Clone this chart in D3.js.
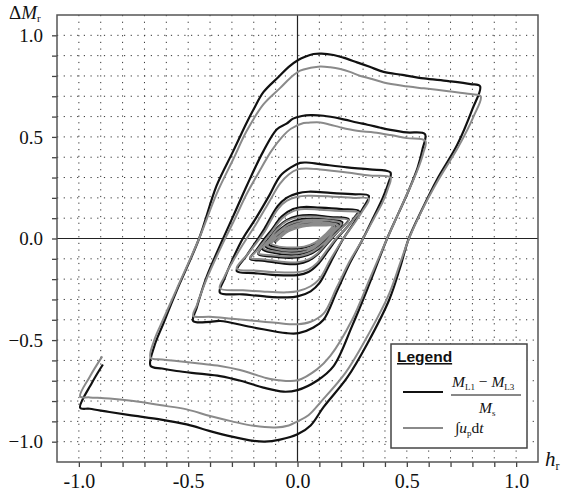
<html>
<script src="https://d3js.org/d3.v7.min.js"></script>
<style>
body { margin: 0; background: #fff; }
text { font-family: "Liberation Serif", "DejaVu Serif", serif; }
</style>
<body>
<svg width="561" height="491"></svg>
<script>
// x = h_r, y = delta M_r
var xTicks = [-1.0,-0.9,-0.8,-0.7,-0.6,-0.5,-0.4,-0.3,-0.2,-0.1,0,0.1,0.2,0.3,0.4,0.5,0.6,0.7,0.8,0.9,1.0];
var yTicks = xTicks;
var xLabels = {"-1": "-1.0", "-0.5": "-0.5", "0": "0.0", "0.5": "0.5", "1": "1.0"};
var yLabels = {"-1": "\u22121.0", "-0.5": "\u22120.5", "0": "0.0", "0.5": "0.5", "1": "1.0"};

// black: (M_L1 - M_L3)/M_s
var blackTrace = [
 [-0.89,-0.62],[-0.94,-0.71],[-0.994,-0.833],
 [-0.95,-0.838],[-0.86,-0.854],[-0.75,-0.872],[-0.63,-0.89],[-0.507,-0.915],[-0.40,-0.948],[-0.30,-0.975],[-0.20,-0.996],[-0.15,-1.0],[-0.08,-0.99],[0,-0.964],
 [0.06,-0.92],[0.119,-0.83],[0.227,-0.685],[0.318,-0.52],[0.42,-0.30],[0.47,-0.14],[0.509,0.0],[0.563,0.128],[0.639,0.292],[0.73,0.46],[0.80,0.637],[0.835,0.749],
 [0.792,0.76],[0.69,0.775],[0.578,0.788],[0.48,0.805],[0.394,0.82],[0.33,0.845],[0.272,0.867],[0.21,0.89],[0.165,0.903],[0.11,0.91],[0.073,0.908],[0.035,0.895],[0.005,0.88],[-0.04,0.845],[-0.087,0.795],
 [-0.156,0.72],[-0.20,0.637],[-0.232,0.571],[-0.294,0.43],[-0.37,0.26],[-0.45,0.0],[-0.553,-0.258],[-0.615,-0.422],[-0.655,-0.53],[-0.672,-0.627],
 [-0.62,-0.64],[-0.553,-0.652],[-0.45,-0.665],[-0.354,-0.677],[-0.26,-0.70],[-0.156,-0.734],[-0.064,-0.754],[0,-0.746],[0.089,-0.70],[0.165,-0.628],
 [0.25,-0.43],[0.33,-0.22],[0.41,0.0],[0.46,0.12],[0.51,0.24],[0.55,0.35],[0.572,0.44],[0.583,0.514],
 [0.50,0.522],[0.425,0.535],[0.38,0.545],[0.32,0.56],[0.272,0.571],[0.196,0.59],[0.119,0.604],[0.06,0.607],[0.02,0.603],[-0.02,0.59],[-0.05,0.565],
 [-0.094,0.538],[-0.156,0.43],[-0.232,0.26],[-0.294,0.11],[-0.34,0.0],[-0.416,-0.19],[-0.461,-0.34],[-0.477,-0.406],
 [-0.40,-0.41],[-0.354,-0.406],[-0.2,-0.438],[-0.05,-0.466],[0.005,-0.466],[0.073,-0.438],[0.119,-0.40],
 [0.18,-0.26],[0.24,-0.12],[0.30,0.0],[0.35,0.11],[0.39,0.20],[0.415,0.27],[0.425,0.325],
 [0.33,0.34],[0.227,0.35],[0.104,0.366],[0.04,0.374],[0.012,0.372],[-0.03,0.35],[-0.079,0.308],
 [-0.13,0.21],[-0.19,0.10],[-0.25,0.0],[-0.30,-0.11],[-0.335,-0.20],[-0.355,-0.266],
 [-0.25,-0.275],[-0.15,-0.285],[-0.05,-0.29],[0.0,-0.285],[0.06,-0.26],[0.10,-0.22],
 [0.15,-0.12],[0.21,0.0],[0.26,0.08],[0.30,0.15],[0.326,0.21],
 [0.25,0.218],[0.15,0.225],[0.05,0.23],[0.0,0.222],[-0.05,0.20],[-0.09,0.16],
 [-0.15,0.05],[-0.18,0.0],[-0.23,-0.08],[-0.278,-0.16],
 [-0.2,-0.17],[-0.1,-0.18],[0.0,-0.18],[0.05,-0.165],[0.09,-0.13],
 [0.14,-0.06],[0.18,0.0],[0.23,0.06],[0.265,0.11],[0.28,0.136],
 [0.2,0.145],[0.1,0.152],[0.03,0.155],[-0.02,0.145],[-0.07,0.11],
 [-0.12,0.04],[-0.15,0.0],[-0.19,-0.06],[-0.217,-0.10],
 [-0.15,-0.11],[-0.05,-0.125],[0.0,-0.125],[0.05,-0.11],[0.09,-0.08],
 [0.14,-0.02],[0.19,0.04],[0.234,0.095],
 [0.15,0.105],[0.06,0.115],[0.0,0.11],[-0.05,0.09],[-0.09,0.055],
 [-0.13,0.0],[-0.179,-0.077],
 [-0.12,-0.088],[-0.04,-0.095],[0.02,-0.09],[0.07,-0.07],[0.12,-0.03],[0.17,0.03],[0.205,0.08],
 [0.15,0.093],[0.08,0.098],[0.02,0.095],[-0.04,0.075],[-0.09,0.035],[-0.13,-0.01],[-0.16,-0.052],
 [-0.11,-0.07],[-0.04,-0.08],[0.02,-0.075],[0.07,-0.055],[0.12,-0.015],[0.16,0.03],[0.19,0.07],
 [0.14,0.082],[0.08,0.087],[0.02,0.083],[-0.04,0.062],[-0.09,0.025],[-0.125,-0.01],[-0.145,-0.04],
 [-0.1,-0.058],[-0.04,-0.066],[0.02,-0.062],[0.07,-0.045],[0.115,-0.01],[0.15,0.03],[0.175,0.06],
 [0.13,0.072],[0.08,0.076],[0.02,0.072],[-0.04,0.052],[-0.085,0.02],[-0.115,-0.01],[-0.13,-0.03],
 [-0.09,-0.045],[-0.03,-0.05],[0.03,-0.045],[0.08,-0.025],[0.12,0.005],[0.15,0.04],[0.165,0.065],
 [0.12,0.068],[0.07,0.068],[0.02,0.062],[-0.04,0.04],[-0.08,0.01],[-0.105,-0.02]
];

// gray: integral of u_p dt
var grayTrace = [
 [-0.893,-0.58],[-0.95,-0.68],[-0.994,-0.778],
 [-0.95,-0.782],[-0.86,-0.788],[-0.75,-0.80],[-0.63,-0.82],[-0.507,-0.841],[-0.40,-0.874],[-0.30,-0.90],[-0.20,-0.922],[-0.1,-0.93],[-0.04,-0.92],[0,-0.90],[0.05,-0.87],
 [0.11,-0.80],[0.22,-0.66],[0.31,-0.50],[0.42,-0.27],[0.47,-0.12],[0.51,0.0],[0.565,0.13],[0.645,0.29],[0.735,0.45],[0.805,0.60],[0.838,0.70],
 [0.792,0.711],[0.69,0.725],[0.578,0.739],[0.48,0.752],[0.394,0.768],[0.34,0.785],[0.288,0.80],[0.24,0.82],[0.196,0.834],[0.15,0.843],[0.104,0.847],[0.06,0.84],[0.012,0.826],[-0.033,0.79],[-0.08,0.74],
 [-0.156,0.66],[-0.232,0.53],[-0.294,0.39],[-0.37,0.22],[-0.45,0.0],[-0.553,-0.25],[-0.615,-0.40],[-0.655,-0.50],[-0.672,-0.586],
 [-0.62,-0.595],[-0.553,-0.603],[-0.45,-0.615],[-0.354,-0.627],[-0.263,-0.647],[-0.2,-0.668],[-0.13,-0.69],[-0.064,-0.70],[0,-0.698],[0.089,-0.644],[0.15,-0.578],
 [0.25,-0.40],[0.33,-0.20],[0.41,0.0],[0.46,0.12],[0.51,0.24],[0.55,0.34],[0.575,0.42],[0.585,0.48],
 [0.50,0.494],[0.425,0.509],[0.35,0.522],[0.272,0.53],[0.196,0.547],[0.15,0.56],[0.104,0.571],[0.05,0.57],[0.028,0.568],[-0.03,0.54],[-0.07,0.50],
 [-0.12,0.43],[-0.18,0.32],[-0.232,0.22],[-0.294,0.08],[-0.34,-0.02],[-0.416,-0.20],[-0.461,-0.33],[-0.477,-0.381],
 [-0.40,-0.385],[-0.30,-0.395],[-0.2,-0.405],[-0.1,-0.415],[0,-0.422],[0.06,-0.41],[0.119,-0.37],
 [0.18,-0.24],[0.24,-0.11],[0.30,0.0],[0.35,0.10],[0.39,0.18],[0.415,0.25],[0.425,0.30],
 [0.33,0.31],[0.227,0.325],[0.104,0.34],[0.04,0.345],[0.0,0.34],[-0.04,0.315],[-0.08,0.27],
 [-0.13,0.18],[-0.19,0.07],[-0.25,-0.03],[-0.30,-0.12],[-0.335,-0.19],[-0.355,-0.245],
 [-0.25,-0.255],[-0.15,-0.262],[-0.05,-0.265],[0.0,-0.26],[0.06,-0.235],[0.10,-0.2],
 [0.15,-0.105],[0.21,0.0],[0.26,0.075],[0.30,0.14],[0.326,0.195],
 [0.25,0.2],[0.15,0.207],[0.05,0.21],[0.0,0.205],[-0.05,0.185],[-0.09,0.145],
 [-0.15,0.035],[-0.18,-0.01],[-0.23,-0.08],[-0.278,-0.148],
 [-0.2,-0.158],[-0.1,-0.166],[0.0,-0.166],[0.05,-0.152],[0.09,-0.12],
 [0.14,-0.05],[0.18,0.005],[0.23,0.06],[0.265,0.105],[0.28,0.128],
 [0.2,0.135],[0.1,0.142],[0.03,0.145],[-0.02,0.135],[-0.07,0.1],
 [-0.12,0.03],[-0.15,-0.01],[-0.19,-0.065],[-0.217,-0.095],
 [-0.15,-0.103],[-0.05,-0.117],[0.0,-0.117],[0.05,-0.103],[0.09,-0.075],
 [0.14,-0.015],[0.19,0.04],[0.234,0.09],
 [0.15,0.1],[0.06,0.108],[0.0,0.104],[-0.05,0.085],[-0.09,0.05],
 [-0.13,-0.005],[-0.179,-0.072],
 [-0.12,-0.082],[-0.04,-0.089],[0.02,-0.084],[0.07,-0.064],[0.12,-0.025],[0.165,0.03],[0.2,0.075],
 [0.15,0.088],[0.08,0.092],[0.02,0.089],[-0.04,0.07],[-0.09,0.03],[-0.13,-0.012],[-0.155,-0.048],
 [-0.105,-0.064],[-0.04,-0.073],[0.02,-0.069],[0.07,-0.05],[0.115,-0.012],[0.155,0.03],[0.185,0.066],
 [0.14,0.077],[0.08,0.082],[0.02,0.078],[-0.04,0.057],[-0.09,0.022],[-0.12,-0.012],[-0.14,-0.036],
 [-0.095,-0.052],[-0.04,-0.06],[0.02,-0.056],[0.07,-0.04],[0.11,-0.007],[0.145,0.03],[0.17,0.062],
 [0.125,0.07],[0.075,0.072],[0.02,0.067],[-0.04,0.047],[-0.08,0.016],[-0.11,-0.012],[-0.12,-0.025],
 [-0.085,-0.04],[-0.03,-0.044],[0.03,-0.04],[0.08,-0.02],[0.115,0.008],[0.145,0.04],[0.16,0.062],
 [0.115,0.064],[0.07,0.064],[0.02,0.058],[-0.04,0.036],[-0.075,0.008],[-0.1,-0.018]
];

var svg = d3.select("svg");
var pL = 57, pR = 538, pT = 15, pB = 462;
var x = d3.scaleLinear().domain([-1.1, 1.1]).range([pL, pR]);
var y = d3.scaleLinear().domain([-1.1, 1.1]).range([pB, pT]);

// dotted grid
svg.append("g").selectAll("line").data(xTicks.filter(function(d){ return d != 0; }))
  .enter().append("line")
  .attr("x1", function(d){ return x(d); }).attr("x2", function(d){ return x(d); })
  .attr("y1", pT).attr("y2", pB)
  .attr("stroke", "#333").attr("stroke-width", 1).attr("stroke-dasharray", "1.2,5.5");
svg.append("g").selectAll("line").data(yTicks.filter(function(d){ return d != 0; }))
  .enter().append("line")
  .attr("y1", function(d){ return y(d); }).attr("y2", function(d){ return y(d); })
  .attr("x1", pL).attr("x2", pR)
  .attr("stroke", "#333").attr("stroke-width", 1).attr("stroke-dasharray", "1.2,5.5");

// zero lines
svg.append("line").attr("x1", x(0)).attr("x2", x(0)).attr("y1", pT).attr("y2", pB)
  .attr("stroke", "#222").attr("stroke-width", 1.2);
svg.append("line").attr("y1", y(0)).attr("y2", y(0)).attr("x1", pL).attr("x2", pR)
  .attr("stroke", "#222").attr("stroke-width", 1.2);

// axes
var xAxis = d3.axisBottom(x).tickValues(xTicks).tickSize(5).tickPadding(7)
  .tickFormat(function(d){ return xLabels[String(+d.toFixed(1))] || ""; });
var gx = svg.append("g").attr("transform", "translate(0," + pB + ")").call(xAxis)
  .attr("font-family", "'Liberation Serif', serif");
gx.select(".domain").remove();
gx.selectAll("line").attr("stroke", "#444").attr("stroke-width", 1.3);
gx.selectAll("text").attr("font-size", 20).attr("fill", "#111")
  .style("font-family", "'Liberation Serif', serif");

var yAxis = d3.axisLeft(y).tickValues(yTicks).tickSize(5).tickPadding(9)
  .tickFormat(function(d){ return yLabels[String(+d.toFixed(1))] || ""; });
var gy = svg.append("g").attr("transform", "translate(" + pL + ",0)").call(yAxis)
  .attr("font-family", "'Liberation Serif', serif");
gy.select(".domain").remove();
gy.selectAll("line").attr("stroke", "#444").attr("stroke-width", 1.3);
gy.selectAll("text").attr("font-size", 19).attr("fill", "#111")
  .style("font-family", "'Liberation Serif', serif");

// curves
var line = d3.line()
  .x(function(d){ return x(d[0]); })
  .y(function(d){ return y(d[1]); })
  .curve(d3.curveCatmullRom.alpha(0.5));
svg.append("path").datum(blackTrace).attr("d", line)
  .attr("fill", "none").attr("stroke", "#111").attr("stroke-width", 2.2);
svg.append("path").datum(grayTrace).attr("d", line)
  .attr("fill", "none").attr("stroke", "#8a8a8a").attr("stroke-width", 2);

// frame
svg.append("rect").attr("x", pL).attr("y", pT)
  .attr("width", pR - pL).attr("height", pB - pT)
  .attr("fill", "none").attr("stroke", "#555").attr("stroke-width", 1.5);

// axis titles
var yt = svg.append("text").attr("x", 9).attr("y", 19).attr("font-size", 19).attr("fill", "#111");
yt.append("tspan").text("\u0394");
yt.append("tspan").attr("font-style", "italic").text("M");
yt.append("tspan").attr("font-size", 11).attr("dy", 3).text("r");
var xt = svg.append("text").attr("x", 545).attr("y", 466).attr("font-size", 21).attr("fill", "#111");
xt.append("tspan").attr("font-style", "italic").text("h");
xt.append("tspan").attr("font-size", 12).attr("dy", 4).text("r");

// legend
var lg = svg.append("g");
lg.append("rect").attr("x", 391).attr("y", 344).attr("width", 136).attr("height", 104)
  .attr("fill", "#fff").attr("stroke", "#444").attr("stroke-width", 1.5);
lg.append("text").attr("x", 397).attr("y", 362).attr("font-size", 15.5).attr("font-weight", "bold")
  .attr("text-decoration", "underline").style("font-family", "'Liberation Sans', Arial, sans-serif")
  .attr("fill", "#111").text("Legend");
lg.append("line").attr("x1", 403).attr("x2", 443).attr("y1", 392).attr("y2", 392)
  .attr("stroke", "#111").attr("stroke-width", 2);
lg.append("line").attr("x1", 403).attr("x2", 443).attr("y1", 428).attr("y2", 428)
  .attr("stroke", "#8a8a8a").attr("stroke-width", 2);
var num = lg.append("text").attr("x", 452).attr("y", 387).attr("font-size", 15.5).attr("fill", "#111");
num.append("tspan").attr("font-style", "italic").text("M");
num.append("tspan").attr("font-size", 9).attr("dy", 3).text("L1");
num.append("tspan").attr("dy", -3).text(" \u2212 ");
num.append("tspan").attr("font-style", "italic").text("M");
num.append("tspan").attr("font-size", 9).attr("dy", 3).text("L3");
lg.append("line").attr("x1", 451).attr("x2", 521).attr("y1", 395).attr("y2", 395)
  .attr("stroke", "#111").attr("stroke-width", 1);
var den = lg.append("text").attr("x", 479).attr("y", 413).attr("font-size", 15.5).attr("fill", "#111");
den.append("tspan").attr("font-style", "italic").text("M");
den.append("tspan").attr("font-size", 9).attr("dy", 3).text("s");
var itg = lg.append("text").attr("x", 455).attr("y", 433).attr("font-size", 15.5).attr("fill", "#111");
itg.append("tspan").text("\u222B");
itg.append("tspan").attr("font-style", "italic").text("u");
itg.append("tspan").attr("font-size", 9).attr("dy", 3).text("p");
itg.append("tspan").attr("dy", -3).text("d");
itg.append("tspan").attr("font-style", "italic").text("t");
</script>
</body>
</html>
